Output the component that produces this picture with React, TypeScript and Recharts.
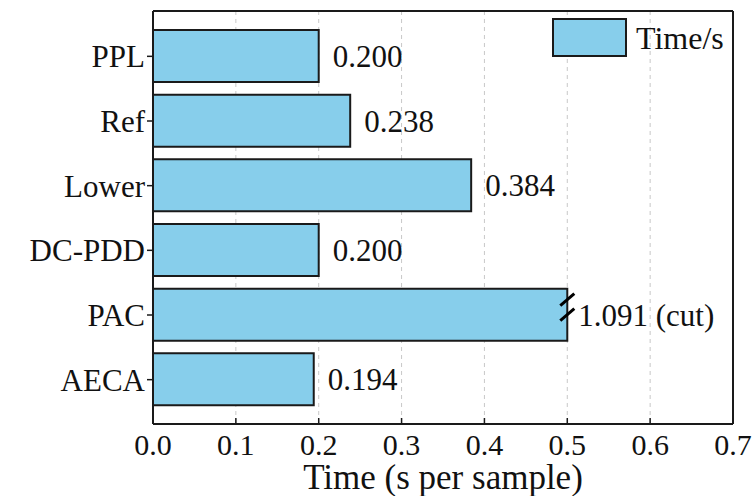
import React from 'react'
import {
  BarChart, Bar, XAxis, YAxis, CartesianGrid, Legend, LabelList, usePlotArea,
} from 'recharts'

// methods and their time per sample (s)
const METHODS = ['PPL', 'Ref', 'Lower', 'DC-PDD', 'PAC', 'AECA']
const TIMES = [0.200, 0.238, 0.384, 0.200, 1.091, 0.194]
const X_TICKS = [0, 0.1, 0.2, 0.3, 0.4, 0.5, 0.6, 0.7]
const CUT = 0.5

const FONT = '"Liberation Serif", "Times New Roman", serif'
const FILL = '#87CEEB'
const EDGE = '#1a1a1a'

const data = METHODS.map((name, i) => ({
  name,
  time: TIMES[i],
  shown: Math.min(TIMES[i], CUT),
}))

function ValueLabel(props: any) {
  const { x, y, width, height, index } = props
  const raw = TIMES[index]
  const cut = raw > CUT
  const ex = x + width
  const cy = y + height / 2
  return (
    <g>
      {cut && (
        <g stroke="#000" strokeWidth={3}>
          <line x1={ex - 7} y1={cy - 9} x2={ex + 7} y2={cy - 21} />
          <line x1={ex - 7} y1={cy + 6} x2={ex + 7} y2={cy - 6} />
        </g>
      )}
      <text
        x={ex + (cut ? 11 : 14)}
        y={cy}
        dy="0.35em"
        fontFamily={FONT}
        fontSize={31}
        fill="#111"
      >
        {cut ? `${raw.toFixed(3)} (cut)` : raw.toFixed(3)}
      </text>
    </g>
  )
}

// top and right sides of the axes box
function Frame() {
  const area = usePlotArea()
  if (!area) return null
  const { x, y, width } = area
  return (
    <g stroke={EDGE} strokeWidth={2} fill="none">
      <line x1={x} y1={y} x2={x + width} y2={y} />
      <line x1={x + width} y1={y} x2={x + width} y2={y + area.height} />
    </g>
  )
}

function LegendBox() {
  return (
    <div style={{ display: 'flex', alignItems: 'center', fontFamily: FONT }}>
      <div style={{ width: 71, height: 35, background: FILL, border: `2px solid ${EDGE}` }} />
      <span style={{ marginLeft: 9, fontSize: 32, color: '#111', lineHeight: '38px' }}>Time/s</span>
    </div>
  )
}

export default function App() {
  return (
    <div style={{ position: 'absolute', left: 0, top: 0, background: '#fff' }}>
      <BarChart
        width={754}
        height={496}
        data={data}
        layout="vertical"
        margin={{ top: 11, right: 21, left: 0, bottom: 0 }}
      >
        <CartesianGrid horizontal={false} stroke="#c8c8c8" strokeDasharray="4 4" />
        <XAxis
          type="number"
          domain={[0, 0.7]}
          ticks={X_TICKS}
          tickFormatter={(v: number) => v.toFixed(1)}
          height={72}
          tickSize={-6}
          tickMargin={16}
          tick={{ fontFamily: FONT, fontSize: 30, fill: '#111' }}
          axisLine={{ stroke: EDGE, strokeWidth: 2 }}
          tickLine={{ stroke: EDGE, strokeWidth: 1.5 }}
          label={{
            value: 'Time (s per sample)',
            position: 'insideBottom',
            offset: 7,
            style: { fontFamily: FONT, fontSize: 35, fill: '#111' },
          }}
        />
        <YAxis
          type="category"
          dataKey="name"
          width={153}
          padding={{ top: 13, bottom: 12 }}
          tickSize={6}
          tickMargin={2}
          tick={{ fontFamily: FONT, fontSize: 31, fill: '#111' }}
          axisLine={{ stroke: EDGE, strokeWidth: 2 }}
          tickLine={{ stroke: EDGE, strokeWidth: 1.5 }}
        />
        <Legend
          layout="horizontal"
          verticalAlign="middle"
          align="center"
          content={() => <LegendBox />}
          wrapperStyle={{ position: 'absolute', left: 552, top: 18, width: 'auto' }}
        />
        <Bar
          dataKey="shown"
          name="Time/s"
          fill={FILL}
          stroke={EDGE}
          strokeWidth={2}
          barSize={52}
          isAnimationActive={false}
        >
          <LabelList dataKey="shown" content={<ValueLabel />} />
        </Bar>
        <Frame />
      </BarChart>
    </div>
  )
}
